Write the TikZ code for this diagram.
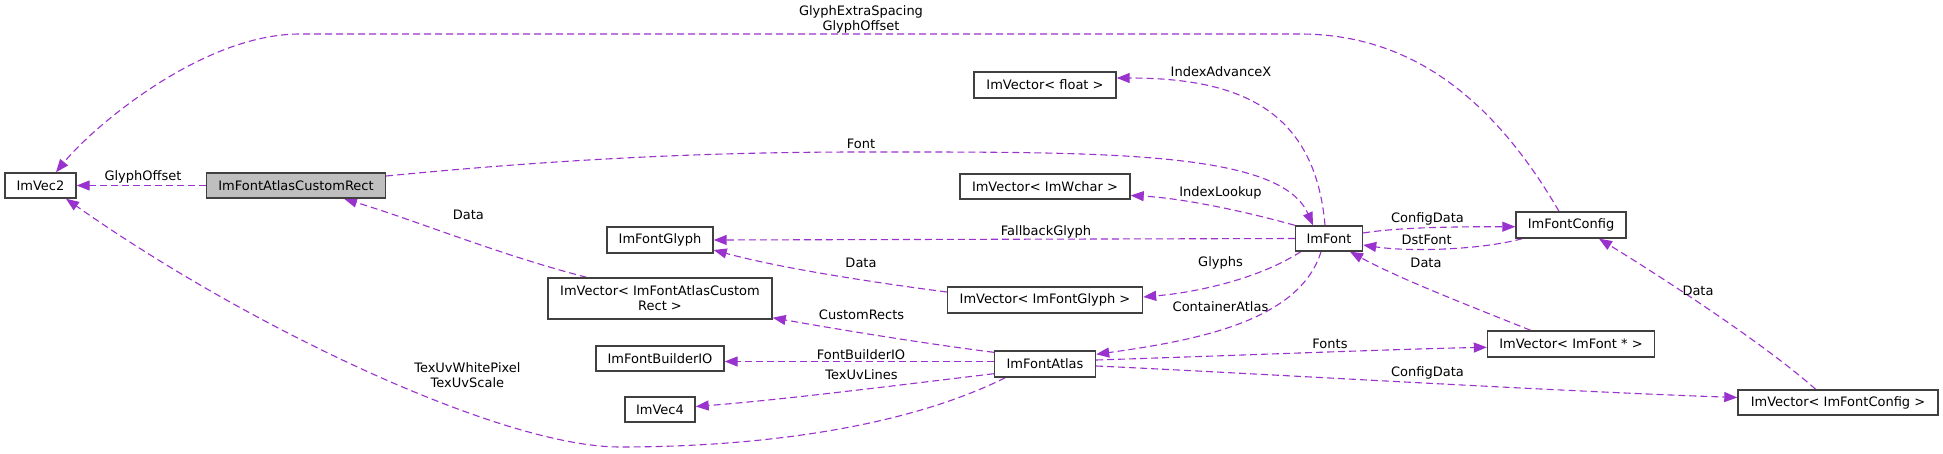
\documentclass[tikz,border=0pt]{standalone}
\usepackage{fontspec}
\setmainfont{DejaVu Sans}
\usetikzlibrary{arrows.meta,calc}
\definecolor{edgec}{HTML}{9A32CD}
\definecolor{boxc}{HTML}{404040}
\definecolor{hlfill}{HTML}{BFBFBF}
\newcommand\dgfont{\fontsize{13}{15}\selectfont}
\pgfdeclarelayer{edgelayer}
\pgfsetlayers{edgelayer,main}
\begin{document}
\begin{tikzpicture}[x=1pt,y=-1pt,
  cls/.style={draw=boxc, line width=1.4pt, fill=white, inner sep=0pt, align=center, font=\dgfont},
  rel/.style={draw=edgec, line width=1.1pt, dash pattern=on 7pt off 4pt, -{Triangle[length=13pt,width=10pt,fill=edgec]}},
  lbl/.style={inner sep=0pt, align=center, font=\dgfont},
]
\begin{pgfonlayer}{edgelayer}
\path[use as bounding box, fill=white] (0,0) rectangle (1943,453);
\end{pgfonlayer}

% nodes
\node[cls, minimum width=71pt, minimum height=25pt] (vec2) at (40.5,185.5) {ImVec2};
\node[cls, fill=hlfill, minimum width=179pt, minimum height=25pt] (rect) at (296,185.5) {ImFontAtlasCustomRect};
\node[cls, minimum width=142pt, minimum height=26pt] (vfloat) at (1045,85) {ImVector< float >};
\node[cls, minimum width=170pt, minimum height=25pt] (vwchar) at (1045,186.5) {ImVector< ImWchar >};
\node[cls, minimum width=106pt, minimum height=26pt] (glyph) at (660,240) {ImFontGlyph};
\node[cls, minimum width=224pt, minimum height=41pt] (vrect) at (660,298.5) {ImVector< ImFontAtlasCustom\\Rect >};
\node[cls, minimum width=195pt, minimum height=26pt] (vglyph) at (1045,300) {ImVector< ImFontGlyph >};
\node[cls, minimum width=128pt, minimum height=25pt] (builder) at (660,358.5) {ImFontBuilderIO};
\node[cls, minimum width=70pt, minimum height=25pt] (vec4) at (660,409.5) {ImVec4};
\node[cls, minimum width=101pt, minimum height=26pt] (atlas) at (1045,364) {ImFontAtlas};
\node[cls, minimum width=67pt, minimum height=25pt] (font) at (1329,238.5) {ImFont};
\node[cls, minimum width=110pt, minimum height=26pt] (config) at (1571,225) {ImFontConfig};
\node[cls, minimum width=167pt, minimum height=26pt] (vfont) at (1571,344) {ImVector< ImFont * >};
\node[cls, minimum width=200pt, minimum height=25pt] (vconfig) at (1838,402.5) {ImVector< ImFontConfig >};

% edges
\begin{pgfonlayer}{edgelayer}
\draw[rel] (rect.west) -- (vec2.east);
\draw[rel] ($(config.north)+(-12,0)$) .. controls (1500,110) and (1420,34) .. (1300,34)
   -- (300,34) .. controls (200,34) and (90,130) .. ($(vec2.north)+(15.5,0)$);
\draw[rel] ($(rect.east)+(0,-9.5)$) .. controls (550,160) and (700,152) .. (861,152)
   .. controls (1100,152) and (1280,150) .. ($(font.north)+(-16,0)$);
\draw[rel] ($(font.north)+(-4,0)$) .. controls (1315,110) and (1240,78) .. ($(vfloat.east)+(0,-7)$);
\draw[rel] (font.north west) .. controls (1240,210) and (1180,198) .. ($(vwchar.east)+(0,9)$);
\draw[rel] (font.west) -- (glyph.east);
\draw[rel] ($(vglyph.west)+(0,-8)$) .. controls (870,282) and (780,268) .. ($(glyph.east)+(0,10)$);
\draw[rel] ($(font.south west)+(6,0)$) .. controls (1260,278) and (1200,292) .. ($(vglyph.east)+(0,-3)$);
\draw[rel] ($(font.south)+(-8,0)$) .. controls (1300,320) and (1200,340) .. ($(atlas.north east)+(0,4)$);
\draw[rel] ($(atlas.north west)+(0,2)$) .. controls (920,343) and (830,328) .. ($(vrect.south east)+(0,-2)$);
\draw[rel] ($(vrect.north)+(-73.4,0)$) .. controls (500,255) and (420,222) .. ($(rect.south)+(48,0)$);
\draw[rel] ($(atlas.west)+(0,-2.5)$) -- ($(builder.east)+(0,3)$);
\draw[rel] ($(atlas.south west)+(0,-4)$) .. controls (900,385) and (780,400) .. ($(vec4.east)+(0,-3)$);
\draw[rel] ($(atlas.south west)+(11.5,0)$) .. controls (900,430) and (750,447) .. (620,447)
   .. controls (500,447) and (245,325) .. ($(vec2.south)+(25.5,0)$);
\draw[rel] ($(font.east)+(0,-5.5)$) .. controls (1400,227) and (1460,226.7) .. ($(config.west)+(0,1.7)$);
\draw[rel] ($(config.south west)+(7,0)$) .. controls (1480,250) and (1410,252) .. ($(font.east)+(0,6.5)$);
\draw[rel] ($(vfont.north)+(-40.4,0)$) .. controls (1470,306) and (1400,279) .. ($(font.south)+(21,0)$);
\draw[rel] ($(atlas.east)+(0,-4)$) .. controls (1250,355) and (1400,349) .. ($(vfont.west)+(0,3.3)$);
\draw[rel] ($(atlas.east)+(0,2)$) .. controls (1250,373) and (1550,391) .. ($(vconfig.west)+(0,-5)$);
\draw[rel] ($(vconfig.north)+(-22.3,0)$) .. controls (1760,340) and (1650,270) .. ($(config.south)+(28,0)$);
\end{pgfonlayer}

% labels
\node[lbl] (l1) at (143,177) {GlyphOffset};
\node[lbl] (l2) at (861,19.5) {GlyphExtraSpacing\\GlyphOffset};
\node[lbl] (l3) at (861,144) {Font};
\node[lbl] (l4) at (1221,72) {IndexAdvanceX};
\node[lbl] (l5) at (1220.5,193) {IndexLookup};
\node[lbl] (l6) at (1046,232) {FallbackGlyph};
\node[lbl] (l7) at (861,263) {Data};
\node[lbl] (l8) at (1220.5,263) {Glyphs};
\node[lbl] (l9) at (1220.5,306.7) {ContainerAtlas};
\node[lbl] (l10) at (861.6,315) {CustomRects};
\node[lbl] (l11) at (468.4,215) {Data};
\node[lbl] (l12) at (861,355) {FontBuilderIO};
\node[lbl] (l13) at (861.6,375) {TexUvLines};
\node[lbl] (l14) at (467.4,375.6) {TexUvWhitePixel\\TexUvScale};
\node[lbl] (l15) at (1427.5,219.3) {ConfigData};
\node[lbl] (l16) at (1426.7,240) {DstFont};
\node[lbl] (l17) at (1426,263.3) {Data};
\node[lbl] (l18) at (1330,344.3) {Fonts};
\node[lbl] (l19) at (1427.5,372.7) {ConfigData};
\node[lbl] (l20) at (1698,290.7) {Data};
\end{tikzpicture}
\end{document}
